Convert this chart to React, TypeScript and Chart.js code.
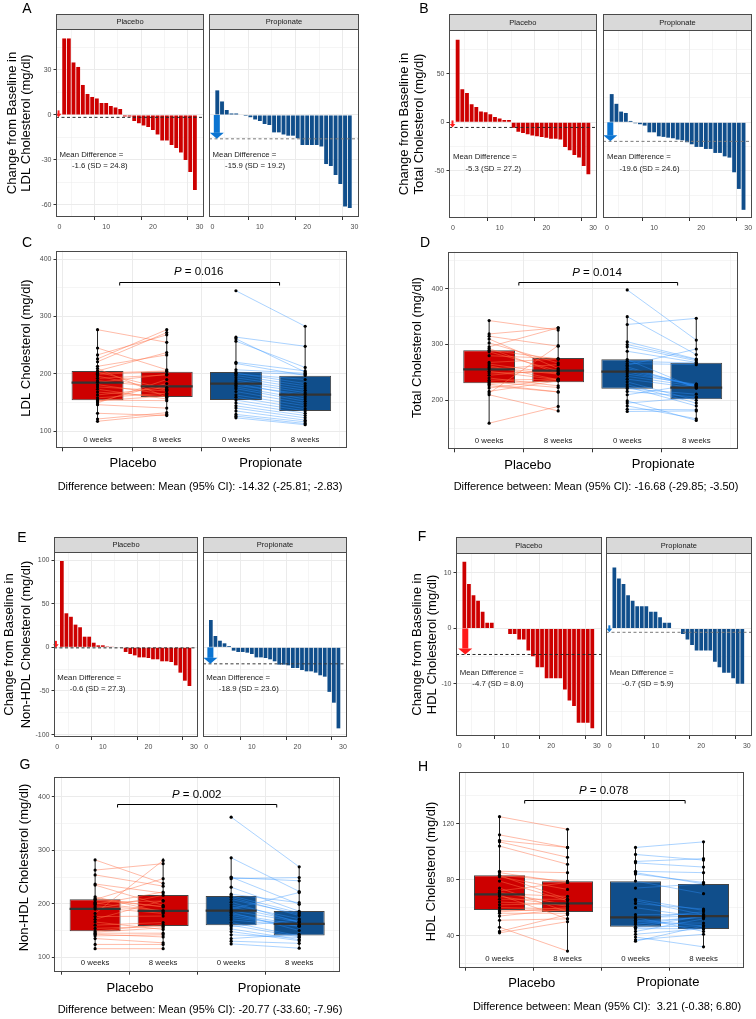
import React, { useEffect, useRef } from 'react';
import { Chart, registerables } from 'chart.js';

Chart.register(...registerables);

const FONT = '"Liberation Sans", Arial, Helvetica, sans-serif';
const RED = '#CD0000';
const BLUE = '#104E8B';
const ARROW_RED = '#FF1A1A';
const ARROW_BLUE = '#0B74D1';
const LINE_RED = 'rgba(255, 112, 72, 0.6)';
const LINE_BLUE = 'rgba(45, 145, 255, 0.5)';
const GRID = '#EBEBEB';
const TICK = '#333333';
const TICK_TEXT = '#4D4D4D';
const PANEL_BORDER = '#4A4A4A';

// ---------- Waterfall data: change from baseline (mg/dl), participants sorted 1..29
const ldlChangePlacebo = [51, 51, 35, 32, 20, 14, 12, 11, 8, 8, 6, 5, 4, -1, -1, -4, -5.5, -7, -8, -10, -13, -17, -17, -20, -22, -25, -30, -38, -50];
const ldlChangePropionate = [16.4, 9, 3.3, 1, 1, 0, -0.7, -1.5, -3, -4, -6, -6.7, -11.6, -11.6, -13, -13.8, -13.8, -15.5, -20, -20, -20, -20, -21, -32.7, -34, -40, -46, -61, -62];
const tcChangePlacebo = [85, 34, 30, 18.5, 15.8, 11, 10.3, 8.2, 5.5, 4, 2.4, 2.4, -5.5, -9.6, -11, -12.3, -13.7, -14.4, -15, -15.8, -17, -17, -17.8, -25.3, -28.8, -33.6, -36.3, -45, -53.4];
const tcChangePropionate = [29, 19, 11, 9.6, 1.4, -1, -2, -3.4, -10.3, -10.3, -14.4, -15, -15.8, -16.4, -17.8, -18.5, -20.5, -22.6, -25.3, -25.3, -27.4, -27.4, -31.5, -31.5, -35, -36.3, -51.4, -68.5, -90];
const nonHdlChangePlacebo = [98.9, 39, 35, 26, 23, 12.2, 12.2, 5.3, 2.3, 2.3, 1, 0.4, 0, -0.5, -5.3, -7.6, -9.2, -11.5, -11.5, -12.2, -13.7, -13.7, -16, -16, -16.8, -20.6, -29, -38.2, -44.3];
const nonHdlChangePropionate = [31.3, 13, 7.6, 4.6, 1.5, -3.8, -5.3, -5.3, -6.1, -7.6, -11.5, -11.5, -12.2, -13.7, -16, -19.8, -19.8, -20.6, -23.7, -23.7, -26, -27.5, -27.5, -29, -32, -33.6, -51, -63.4, -92.8];
const hdlChangePlacebo = [12, 8, 6, 5, 3, 1, 1, 0, 0, 0, -1, -1, -2, -2, -4, -5, -7, -7, -9, -9, -9, -9, -11, -13, -14, -17, -17, -17, -18];
const hdlChangePropionate = [11, 9, 8, 6, 5, 4, 4, 4, 3, 3, 2, 1, 1, 0, 0, -1, -2, -3, -4, -4, -4, -4, -6, -7, -8, -8, -9, -10, -10];

// order: LDL, Total, Non-HDL, HDL
const placeboMeans = [-1.6, -5.3, -0.6, -4.7];
const placeboSDs = [24.8, 27.2, 27.3, 8.0];
const propionateMeans = [-15.9, -19.6, -18.9, -0.7];
const propionateSDs = [19.2, 24.6, 23.6, 5.9];

// ---------- Paired data (mg/dl), 0 weeks and 8 weeks
const ldlPlacebo0 = [277, 245, 233, 226, 221, 213, 209, 205, 203, 201, 199, 196, 192, 188, 185, 181, 177, 173, 168, 163, 158, 154, 153, 151, 149, 146, 131, 121, 117];
const ldlPlacebo8 = [255, 207, 268, 277, 272, 233, 159, 237, 173, 205, 204, 171, 198, 175, 199, 164, 170, 156, 160, 176, 166, 153, 161, 183, 190, 140, 127, 132, 129];
const ldlPropionate0 = [345, 264, 261, 257, 220, 218, 207, 203, 201, 200, 197, 193, 189, 186, 183, 180, 177, 174, 169, 163, 159, 154, 149, 144, 140, 135, 129, 126, 123];
const ldlPropionate8 = [283, 248, 203, 211, 205, 197, 201, 199, 183, 190, 179, 175, 171, 167, 160, 164, 156, 152, 148, 144, 139, 135, 131, 127, 123, 119, 116, 113, 111];

const tcPlacebo0 = [343, 319, 315, 310, 303, 296, 293, 290, 287, 280, 268, 265, 262, 259, 256, 252, 249, 245, 240, 236, 233, 231, 229, 226, 222, 216, 213, 210, 159];
const tcPlacebo8 = [326, 330, 297, 257, 267, 330, 248, 274, 253, 275, 274, 248, 237, 247, 264, 237, 251, 255, 226, 238, 223, 235, 215, 215, 238, 235, 298, 181, 189];
const tcPropionate0 = [398, 350, 336, 305, 300, 296, 288, 273, 270, 266, 263, 260, 257, 254, 251, 247, 243, 238, 233, 228, 224, 221, 216, 210, 199, 195, 190, 184, 180];
const tcPropionate8 = [308, 282, 347, 274, 273, 271, 268, 222, 267, 264, 292, 224, 226, 227, 226, 229, 225, 222, 200, 195, 190, 211, 206, 229, 164, 205, 167, 183, 181];

const nonHdlPlacebo0 = [282, 263, 254, 237, 235, 213, 210, 208, 207, 203, 201, 199, 196, 193, 190, 182, 176, 171, 166, 160, 154, 149, 147, 145, 143, 140, 135, 124, 116];
const nonHdlPlacebo8 = [238, 275, 233, 220, 197, 184, 194, 247, 195, 205, 187, 222, 187, 182, 216, 281, 177, 206, 152, 165, 158, 161, 155, 145, 138, 142, 127, 124, 116];
const nonHdlPropionate0 = [362, 286, 250, 249, 247, 231, 218, 215, 212, 208, 203, 198, 194, 190, 187, 184, 181, 178, 174, 170, 165, 160, 157, 153, 148, 142, 135, 130, 125];
const nonHdlPropionate8 = [269, 223, 199, 243, 249, 186, 202, 183, 178, 181, 165, 172, 167, 221, 166, 150, 161, 158, 160, 158, 140, 138, 170, 133, 131, 137, 143, 126, 117];

const hdlPlacebo0 = [125, 112, 108, 107, 104, 86, 85, 83, 83, 82, 79, 74, 72, 71, 70, 69, 68, 66, 64, 62, 60, 58, 57, 56, 54, 51, 46, 43, 42];
const hdlPlacebo8 = [116, 103, 103, 96, 91, 85, 78, 79, 66, 73, 65, 57, 78, 62, 68, 52, 61, 66, 62, 63, 59, 58, 60, 56, 59, 52, 29, 55, 50];
const hdlPropionate0 = [103, 98, 93, 92, 86, 85, 84, 79, 74, 66, 65, 63, 60, 55, 53, 53, 52, 51, 50, 49, 48, 46, 46, 45, 43, 41, 39, 37, 36];
const hdlPropionate8 = [107, 94, 95, 89, 85, 77, 78, 70, 77, 58, 55, 59, 53, 55, 54, 43, 57, 47, 53, 49, 54, 54, 47, 45, 52, 45, 32, 41, 47];

// ---------- Box statistics [lower whisker, Q1, median, Q3, upper whisker]
// Placebo 0 wk, Placebo 8 wk, Propionate 0 wk, Propionate 8 wk
const ldlBoxes = [[117, 153.7, 184.5, 205, 277], [128, 159.4, 178, 203.7, 277], [122.7, 154, 182.7, 203, 264], [110.5, 135, 163.5, 196.7, 282]];
const tcBoxes = [[158.8, 230.5, 255.6, 289.6, 342.8], [181.5, 232.3, 253.2, 275.9, 332], [180.3, 220.9, 251.4, 273.5, 350], [163, 201.8, 222.7, 267.5, 347]];
const nonHdlBoxes = [[116, 148.6, 190.3, 208.4, 282], [116, 158.6, 186.6, 216.5, 285.7], [125.5, 159.8, 187.2, 214.6, 288], [116.8, 140.5, 162.3, 186.6, 268.8]];
const hdlBoxes = [[41.7, 58.3, 69.5, 83.1, 125], [29, 56.9, 63.1, 78.8, 116.2], [36.4, 46.4, 53.1, 78.8, 103.3], [31.9, 44.8, 54, 76.9, 107.4]];

const groupNames = ['Placebo', 'Propionate'];
const weekLabels = ['0 weeks', '8 weeks', '0 weeks', '8 weeks'];
const pValues = ['0.016', '0.014', '0.002', '0.078'];
const ciTexts = [
  'Difference between: Mean (95% CI): -14.32 (-25.81; -2.83)',
  'Difference between: Mean (95% CI): -16.68 (-29.85; -3.50)',
  'Difference between: Mean (95% CI): -20.77 (-33.60; -7.96)',
  'Difference between: Mean (95% CI):  3.21 (-0.38; 6.80)',
];

// ---------- Tick values
const wfXTicks = [0, 10, 20, 30];
const wfXMinor = [5, 15, 25];
const ldlChangeTicks = [-60, -30, 0, 30];
const ldlChangeMinor = [-45, -15, 15, 45];
const tcChangeTicks = [-50, 0, 50];
const tcChangeMinor = [-75, -25, 25, 75];
const nonHdlChangeTicks = [-100, -50, 0, 50, 100];
const nonHdlChangeMinor = [-75, -25, 25, 75];
const hdlChangeTicks = [-10, 0, 10];
const hdlChangeMinor = [-15, -5, 5];
const ldlTicks = [100, 200, 300, 400];
const ldlMinor = [150, 250, 350];
const tcTicks = [200, 300, 400];
const tcMinor = [150, 250, 350, 450];
const nonHdlTicks = [100, 200, 300, 400];
const nonHdlMinor = [150, 250, 350];
const hdlTicks = [40, 80, 120];
const hdlMinor = [20, 60, 100, 140];
const boxXTicks = [1, 2, 3, 4];

// ---------- Layout (page pixels)
const wfPanels = [
  {
    idx: 0, letter: 'A', letterPos: [27, 9], titleLines: ['Change from Baseline in', 'LDL Cholesterol (mg/dl)'], titleX: [12.3, 26.3], titleY: 123,
    stripTop: 14, yr: [-68, 57.3], xr: [-0.75, 30.95], ticks: ldlChangeTicks, minor: ldlChangeMinor, labelY: [-26.7, -33.8],
    placebo: { canvas: { l: 0, t: 0, r: 208, b: 236 }, area: { l: 56, t: 29, r: 204, b: 217 }, values: ldlChangePlacebo, arrowX: -0.2, dash: '#2A2A2A' },
    propionate: { canvas: { l: 205, t: 10, r: 364, b: 236 }, area: { l: 209, t: 29, r: 359, b: 217 }, values: ldlChangePropionate, arrowX: 0.9, dash: '#7A7A7A' },
  },
  {
    idx: 1, letter: 'B', letterPos: [424, 9], titleLines: ['Change from Baseline in', 'Total Cholesterol (mg/dl)'], titleX: [404, 419.5], titleY: 124,
    stripTop: 14, yr: [-98.4, 94.9], xr: [-0.85, 30.8], ticks: tcChangeTicks, minor: tcChangeMinor, labelY: [-36, -48],
    placebo: { canvas: { l: 380, t: 0, r: 600, b: 236 }, area: { l: 449, t: 30, r: 597, b: 218 }, values: tcChangePlacebo, arrowX: -0.1, dash: '#2A2A2A' },
    propionate: { canvas: { l: 599, t: 10, r: 756, b: 236 }, area: { l: 603, t: 30, r: 752, b: 218 }, values: tcChangePropionate, arrowX: 0.7, dash: '#7A7A7A' },
  },
  {
    idx: 2, letter: 'E', letterPos: [22, 538], titleLines: ['Change from Baseline in', 'Non-HDL Cholesterol (mg/dl)'], titleX: [9, 26], titleY: 644.5,
    stripTop: 537, yr: [-102.7, 109.2], xr: [-0.72, 30.88], ticks: nonHdlChangeTicks, minor: nonHdlChangeMinor, labelY: [-34.8, -47.4],
    placebo: { canvas: { l: 0, t: 525, r: 201, b: 755 }, area: { l: 54, t: 552, r: 198, b: 737 }, values: nonHdlChangePlacebo, arrowX: -0.3, dash: '#2A2A2A' },
    propionate: { canvas: { l: 199, t: 530, r: 352, b: 755 }, area: { l: 203, t: 552, r: 347, b: 737 }, values: nonHdlChangePropionate, arrowX: 0.9, dash: '#3A3A3A' },
  },
  {
    idx: 3, letter: 'F', letterPos: [422, 537], titleLines: ['Change from Baseline in', 'HDL Cholesterol (mg/dl)'], titleX: [417.3, 432], titleY: 644.5,
    stripTop: 537, yr: [-19.4, 13.6], xr: [-0.83, 31.06], ticks: hdlChangeTicks, minor: hdlChangeMinor, labelY: [-8.1, -10.0],
    placebo: { canvas: { l: 380, t: 525, r: 604, b: 755 }, area: { l: 456, t: 553, r: 601.7, b: 736 }, values: hdlChangePlacebo, arrowX: 1.2, dash: '#2A2A2A' },
    propionate: { canvas: { l: 603, t: 530, r: 756, b: 755 }, area: { l: 606, t: 553, r: 751.7, b: 736 }, values: hdlChangePropionate, arrowX: -0.1, dash: '#7A7A7A' },
  },
];

const boxPanels = [
  {
    idx: 0, letter: 'C', letterPos: [27, 243], title: 'LDL Cholesterol (mg/dl)', titleX: 26.7, titleY: 348,
    canvas: { l: 0, t: 232, r: 376, b: 500 }, area: { l: 56, t: 250.7, r: 346.7, b: 448.3 }, yr: [69.8, 415], ticks: ldlTicks, minor: ldlMinor,
    p0: ldlPlacebo0, p8: ldlPlacebo8, r0: ldlPropionate0, r8: ldlPropionate8, boxes: ldlBoxes,
    bracketX: [1.32, 3.63], bracketY: 361, pPos: [198.7, 271.7], weekY: 440, groupPos: [[133, 463], [270.7, 463]], diffPos: [200, 487],
  },
  {
    idx: 1, letter: 'D', letterPos: [425, 243], title: 'Total Cholesterol (mg/dl)', titleX: 417.3, titleY: 347.6,
    canvas: { l: 380, t: 232, r: 756, b: 500 }, area: { l: 447.7, t: 251.7, r: 737.7, b: 449.3 }, yr: [112.2, 466.5], ticks: tcTicks, minor: tcMinor,
    p0: tcPlacebo0, p8: tcPlacebo8, r0: tcPropionate0, r8: tcPropionate8, boxes: tcBoxes,
    bracketX: [1.43, 3.73], bracketY: 412, pPos: [597, 272.7], weekY: 440.7, groupPos: [[527.7, 465.7], [663.3, 464.3]], diffPos: [596, 487],
  },
  {
    idx: 2, letter: 'G', letterPos: [25, 765], title: 'Non-HDL Cholesterol (mg/dl)', titleX: 24, titleY: 867.5,
    canvas: { l: 0, t: 752, r: 376, b: 1019 }, area: { l: 54.3, t: 776.7, r: 340, b: 971.7 }, yr: [73, 437.6], ticks: nonHdlTicks, minor: nonHdlMinor,
    p0: nonHdlPlacebo0, p8: nonHdlPlacebo8, r0: nonHdlPropionate0, r8: nonHdlPropionate8, boxes: nonHdlBoxes,
    bracketX: [1.33, 3.67], bracketY: 386, pPos: [196.7, 795], weekY: 963.3, groupPos: [[130, 988.3], [269.3, 988.3]], diffPos: [200, 1010],
  },
  {
    idx: 3, letter: 'H', letterPos: [423, 767], title: 'HDL Cholesterol (mg/dl)', titleX: 431, titleY: 871.5,
    canvas: { l: 380, t: 752, r: 756, b: 1019 }, area: { l: 458.7, t: 772.3, r: 744.3, b: 967.7 }, yr: [17.1, 156.7], ticks: hdlTicks, minor: hdlMinor,
    p0: hdlPlacebo0, p8: hdlPlacebo8, r0: hdlPropionate0, r8: hdlPropionate8, boxes: hdlBoxes,
    bracketX: [1.37, 3.73], bracketY: 137, pPos: [603.7, 791], weekY: 959.3, groupPos: [[531.7, 983.3], [668, 982.7]], diffPos: [607, 1006.7],
  },
];

// ---------- Helpers
function drawTextItem(chart: any, t: any, ox: number, oy: number) {
  const ctx = chart.ctx;
  let x = t.xv !== undefined ? chart.scales.x.getPixelForValue(t.xv) : t.x - ox;
  let y = t.yv !== undefined ? chart.scales.y.getPixelForValue(t.yv) : t.y - oy;
  x += t.dx || 0;
  y += t.dy || 0;
  ctx.save();
  ctx.fillStyle = t.color || '#000';
  ctx.textBaseline = 'middle';
  if (t.pv) {
    ctx.font = `italic ${t.size}px ${FONT}`;
    const w1 = ctx.measureText('P').width;
    ctx.font = `${t.size}px ${FONT}`;
    const rest = ' = ' + t.pv;
    const w2 = ctx.measureText(rest).width;
    const sx = x - (w1 + w2) / 2;
    ctx.textAlign = 'left';
    ctx.font = `italic ${t.size}px ${FONT}`;
    ctx.fillText('P', sx, y);
    ctx.font = `${t.size}px ${FONT}`;
    ctx.fillText(rest, sx + w1, y);
  } else {
    ctx.translate(x, y);
    if (t.rot) ctx.rotate((t.rot * Math.PI) / 180);
    ctx.font = `${t.size}px ${FONT}`;
    ctx.textAlign = t.align || 'center';
    ctx.fillText(t.text, 0, 0);
  }
  ctx.restore();
}

function decoPlugin(d: any) {
  return {
    id: 'deco',
    afterDatasetsDraw(chart: any) {
      const ctx = chart.ctx;
      const xs = chart.scales.x;
      const ys = chart.scales.y;
      ctx.save();
      if (d.arrow) {
        const px = xs.getPixelForValue(d.arrow.x);
        const p0 = ys.getPixelForValue(0);
        const p1 = ys.getPixelForValue(d.arrow.to);
        const len = p1 - p0;
        ctx.fillStyle = d.arrow.color;
        if (len >= 12) {
          const headL = 6, headW = 7, shaft = 3;
          ctx.fillRect(px - shaft, p0, shaft * 2, len - headL);
          ctx.beginPath();
          ctx.moveTo(px - headW, p1 - headL);
          ctx.lineTo(px + headW, p1 - headL);
          ctx.lineTo(px, p1);
          ctx.closePath();
          ctx.fill();
        } else {
          const tip = p1;
          const top = Math.min(p0, tip - 7);
          ctx.fillRect(px - 1, top, 2, tip - 3 - top);
          ctx.beginPath();
          ctx.moveTo(px - 2.8, tip - 3.5);
          ctx.lineTo(px + 2.8, tip - 3.5);
          ctx.lineTo(px, tip);
          ctx.closePath();
          ctx.fill();
        }
      }
      if (d.bracket) {
        const x1 = xs.getPixelForValue(d.bracket.x1);
        const x2 = xs.getPixelForValue(d.bracket.x2);
        const y = Math.round(ys.getPixelForValue(d.bracket.y)) + 0.5;
        ctx.strokeStyle = '#000';
        ctx.lineWidth = 1;
        ctx.beginPath();
        ctx.moveTo(x1, y + 3);
        ctx.lineTo(x1, y);
        ctx.lineTo(x2, y);
        ctx.lineTo(x2, y + 3);
        ctx.stroke();
      }
      ctx.restore();
    },
    afterDraw(chart: any) {
      const ctx = chart.ctx;
      const a = chart.chartArea;
      ctx.save();
      ctx.strokeStyle = PANEL_BORDER;
      ctx.lineWidth = 1;
      const L = Math.round(a.left) + 0.5, T = Math.round(a.top) + 0.5;
      const W = Math.round(a.right) - Math.round(a.left) - 1, H = Math.round(a.bottom) - Math.round(a.top) - 1;
      ctx.strokeRect(L, T, W, H);
      if (d.strip) {
        const top = Math.round(d.strip.top - d.oy) + 0.5;
        ctx.fillStyle = '#D9D9D9';
        ctx.fillRect(L, top, W, T - top);
        ctx.strokeRect(L, top, W, T - top);
        drawTextItem(chart, { text: d.strip.text, x: (a.left + a.right) / 2 + d.ox, y: (top + T) / 2 + d.oy, size: 7.5, color: '#1A1A1A' }, d.ox, d.oy);
      }
      ctx.restore();
      (d.texts || []).forEach((t: any) => drawTextItem(chart, t, d.ox, d.oy));
    },
  };
}

function axisOptions(o: any) {
  const all = [...o.majors, ...o.minors].sort((p: number, q: number) => p - q);
  const isMajor = (v: number) => o.majors.indexOf(v) >= 0;
  return {
    type: 'linear',
    min: o.min,
    max: o.max,
    offset: false,
    bounds: 'data',
    afterBuildTicks: (ax: any) => {
      ax.ticks = all.map((v: number) => ({ value: v }));
    },
    afterFit: (ax: any) => {
      if (o.vertical) ax.width = o.size;
      else ax.height = o.size;
    },
    ticks: {
      display: o.showLabels,
      autoSkip: false,
      maxRotation: 0,
      minRotation: 0,
      padding: o.vertical ? 2 : 3,
      font: { family: FONT, size: 7 },
      color: TICK_TEXT,
      callback: (v: number) => {
        const i = o.majors.indexOf(v);
        return i >= 0 ? (o.labels ? o.labels[i] : String(v)) : '';
      },
    },
    grid: {
      color: GRID,
      lineWidth: (c: any) => (c.tick && isMajor(c.tick.value) ? 1 : 0.5),
      drawTicks: o.drawTicks,
      tickLength: o.tickLen,
      tickWidth: 1,
      tickColor: (c: any) => (c.tick && isMajor(c.tick.value) ? TICK : 'rgba(0,0,0,0)'),
    },
    border: { display: false },
  };
}

function waterfallConfig(p: any, isPlacebo: boolean) {
  const f = isPlacebo ? p.placebo : p.propionate;
  const mean = isPlacebo ? placeboMeans[p.idx] : propionateMeans[p.idx];
  const sd = isPlacebo ? placeboSDs[p.idx] : propionateSDs[p.idx];
  const color = isPlacebo ? RED : BLUE;
  const yW = isPlacebo ? 20 : 0;
  const xH = 14;
  const a = f.area, c = f.canvas;
  const padding = { left: a.l - c.l - yW, top: a.t - c.t, right: c.r - a.r, bottom: c.b - a.b - xH };
  const texts: any[] = [
    { text: 'Mean Difference =', xv: 0, yv: p.labelY[0], align: 'left', size: 7.8, color: '#1A1A1A' },
    { text: `${mean.toFixed(1)} (SD = ${sd.toFixed(1)})`, xv: 0, dx: 12.5, yv: p.labelY[1], align: 'left', size: 7.8, color: '#1A1A1A' },
  ];
  if (isPlacebo) {
    texts.push({ text: p.letter, x: p.letterPos[0], y: p.letterPos[1], size: 14 });
    texts.push({ text: p.titleLines[0], x: p.titleX[0], y: p.titleY, rot: -90, size: 13 });
    texts.push({ text: p.titleLines[1], x: p.titleX[1], y: p.titleY, rot: -90, size: 13 });
  }
  return {
    type: 'bar',
    data: {
      datasets: [
        {
          type: 'bar',
          data: f.values.map((v: number, i: number) => ({ x: i + 1, y: v })),
          backgroundColor: color,
          borderWidth: 0,
          barPercentage: 0.82,
          categoryPercentage: 1,
          order: 2,
        },
        {
          type: 'line',
          data: [{ x: p.xr[0], y: mean }, { x: p.xr[1], y: mean }],
          borderColor: f.dash,
          borderWidth: 1,
          borderDash: [3, 2.5],
          pointRadius: 0,
          order: 1,
        },
      ],
    },
    options: {
      responsive: false,
      animation: false,
      devicePixelRatio: 1,
      events: [],
      layout: { padding },
      plugins: { legend: { display: false }, tooltip: { enabled: false }, title: { display: false } },
      scales: {
        x: axisOptions({ min: p.xr[0], max: p.xr[1], majors: wfXTicks, minors: wfXMinor, showLabels: true, drawTicks: true, tickLen: 3, size: xH, vertical: false }),
        y: axisOptions({ min: p.yr[0], max: p.yr[1], majors: p.ticks, minors: p.minor, showLabels: isPlacebo, drawTicks: isPlacebo, tickLen: 2.5, size: yW, vertical: true }),
      },
    },
    plugins: [
      decoPlugin({
        ox: c.l,
        oy: c.t,
        strip: { top: p.stripTop, text: isPlacebo ? groupNames[0] : groupNames[1] },
        arrow: { x: f.arrowX, to: mean, color: isPlacebo ? ARROW_RED : ARROW_BLUE },
        texts,
      }),
    ],
  };
}

function boxConfig(p: any) {
  const yW = 22, xH = 6;
  const a = p.area, c = p.canvas;
  const padding = { left: a.l - c.l - yW, top: a.t - c.t, right: c.r - a.r, bottom: c.b - a.b - xH };
  const whiskers: any[] = [];
  const medians: any[] = [];
  p.boxes.forEach((s: number[], i: number) => {
    const x = i + 1;
    whiskers.push({ x, y: s[0] }, { x, y: s[1] }, { x, y: null }, { x, y: s[3] }, { x, y: s[4] }, { x, y: null });
    medians.push({ x: x - 0.375, y: s[2] }, { x: x + 0.375, y: s[2] }, { x: x + 0.4, y: null });
  });
  const pairsPlacebo: any[] = [];
  p.p0.forEach((v: number, i: number) => pairsPlacebo.push({ x: 1, y: v }, { x: 2, y: p.p8[i] }, { x: 2, y: null }));
  const pairsProp: any[] = [];
  p.r0.forEach((v: number, i: number) => pairsProp.push({ x: 3, y: v }, { x: 4, y: p.r8[i] }, { x: 4, y: null }));
  const points = [
    ...p.p0.map((v: number) => ({ x: 1, y: v })),
    ...p.p8.map((v: number) => ({ x: 2, y: v })),
    ...p.r0.map((v: number) => ({ x: 3, y: v })),
    ...p.r8.map((v: number) => ({ x: 4, y: v })),
  ];
  const texts: any[] = [
    { text: p.letter, x: p.letterPos[0], y: p.letterPos[1], size: 14 },
    { text: p.title, x: p.titleX, y: p.titleY, rot: -90, size: 13 },
    { pv: pValues[p.idx], x: p.pPos[0], y: p.pPos[1], size: 11.5 },
    ...weekLabels.map((w, i) => ({ text: w, xv: i + 1, y: p.weekY, size: 7.8, color: '#1A1A1A' })),
    { text: groupNames[0], x: p.groupPos[0][0], y: p.groupPos[0][1], size: 13 },
    { text: groupNames[1], x: p.groupPos[1][0], y: p.groupPos[1][1], size: 13 },
    { text: ciTexts[p.idx], x: p.diffPos[0], y: p.diffPos[1], size: 11 },
  ];
  return {
    type: 'bar',
    data: {
      datasets: [
        {
          type: 'bar',
          data: p.boxes.map((s: number[], i: number) => ({ x: i + 1, y: [s[1], s[3]] })),
          backgroundColor: [RED, RED, BLUE, BLUE],
          borderColor: '#444444',
          borderWidth: 1,
          borderSkipped: false,
          barPercentage: 0.75,
          categoryPercentage: 1,
          order: 6,
        },
        { type: 'line', data: whiskers, borderColor: '#222222', borderWidth: 1, pointRadius: 0, spanGaps: false, order: 5 },
        { type: 'line', data: pairsPlacebo, borderColor: LINE_RED, borderWidth: 0.8, pointRadius: 0, spanGaps: false, order: 4 },
        { type: 'line', data: pairsProp, borderColor: LINE_BLUE, borderWidth: 0.8, pointRadius: 0, spanGaps: false, order: 3 },
        { type: 'line', data: medians, borderColor: '#333333', borderWidth: 2.2, pointRadius: 0, spanGaps: false, order: 2 },
        { type: 'scatter', data: points, backgroundColor: '#000000', borderWidth: 0, pointRadius: 1.6, order: 1 },
      ],
    },
    options: {
      responsive: false,
      animation: false,
      devicePixelRatio: 1,
      events: [],
      layout: { padding },
      plugins: { legend: { display: false }, tooltip: { enabled: false }, title: { display: false } },
      scales: {
        x: axisOptions({ min: 0.4, max: 4.6, majors: boxXTicks, minors: [], showLabels: false, drawTicks: true, tickLen: 3, size: xH, vertical: false }),
        y: axisOptions({ min: p.yr[0], max: p.yr[1], majors: p.ticks, minors: p.minor, showLabels: true, drawTicks: true, tickLen: 2.5, size: yW, vertical: true }),
      },
    },
    plugins: [
      decoPlugin({
        ox: c.l,
        oy: c.t,
        bracket: { x1: p.bracketX[0], x2: p.bracketX[1], y: p.bracketY },
        texts,
      }),
    ],
  };
}

function ChartBox({ rect, build }: { rect: any; build: () => any }) {
  const ref = useRef<HTMLCanvasElement | null>(null);
  useEffect(() => {
    if (!ref.current) return;
    const chart = new Chart(ref.current, build() as any);
    return () => chart.destroy();
  }, []);
  const w = rect.r - rect.l;
  const h = rect.b - rect.t;
  return (
    <canvas
      ref={ref}
      width={w}
      height={h}
      style={{ position: 'absolute', left: rect.l, top: rect.t, width: w, height: h }}
    />
  );
}

export default function App() {
  const items: any[] = [];
  wfPanels.forEach((p) => {
    items.push({ key: p.letter + 'pl', rect: p.placebo.canvas, build: () => waterfallConfig(p, true) });
    items.push({ key: p.letter + 'pr', rect: p.propionate.canvas, build: () => waterfallConfig(p, false) });
  });
  boxPanels.forEach((p) => {
    items.push({ key: p.letter, rect: p.canvas, build: () => boxConfig(p) });
  });
  return (
    <div style={{ position: 'absolute', left: 0, top: 0, width: 756, height: 1019, background: '#ffffff', overflow: 'hidden' }}>
      {items.map((it) => (
        <ChartBox key={it.key} rect={it.rect} build={it.build} />
      ))}
    </div>
  );
}
